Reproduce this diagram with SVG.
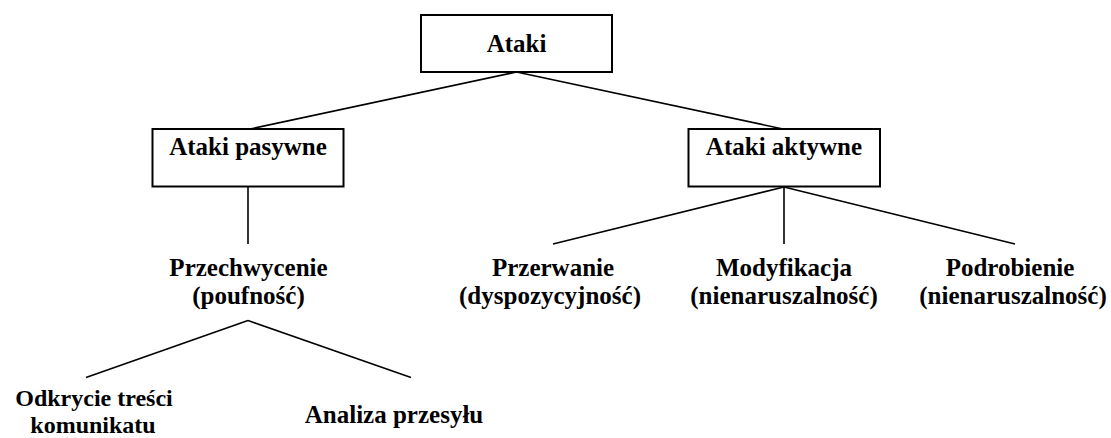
<svg xmlns="http://www.w3.org/2000/svg" width="1111" height="438" viewBox="0 0 1111 438">
  <style>
    .box { fill: #ffffff; stroke: #000000; stroke-width: 2; }
    .edge { stroke: #000000; stroke-width: 1.6; fill: none; }
    .lbl { font-family: "Liberation Serif", "Times New Roman", serif; font-weight: bold; font-size: 25px; fill: #000000; text-anchor: middle; }
    .lbl.sm { font-size: 24px; }
  </style>
  <rect width="1111" height="438" fill="#ffffff"/>

  <!-- connectors -->
  <g id="connectors">
    <line class="edge" x1="516.5" y1="72" x2="250" y2="129"/>
    <line class="edge" x1="516.5" y1="72" x2="783" y2="129"/>
    <line class="edge" x1="248" y1="187" x2="248" y2="244"/>
    <line class="edge" x1="784" y1="187" x2="553" y2="244"/>
    <line class="edge" x1="784" y1="187" x2="784" y2="244"/>
    <line class="edge" x1="784" y1="187" x2="1015" y2="244"/>
    <line class="edge" x1="248" y1="320.5" x2="86" y2="377.5"/>
    <line class="edge" x1="248" y1="320.5" x2="411" y2="377.5"/>
  </g>

  <g id="ataki">
    <rect class="box" x="421" y="15" width="191" height="57"/>
    <text class="lbl" x="516.5" y="52">Ataki</text>
  </g>

  <g id="ataki-pasywne">
    <rect class="box" x="152.5" y="129" width="191" height="57.5"/>
    <text class="lbl" x="248" y="155">Ataki pasywne</text>
  </g>

  <g id="ataki-aktywne">
    <rect class="box" x="688.5" y="129" width="191.5" height="57.5"/>
    <text class="lbl" x="784" y="155">Ataki aktywne</text>
  </g>

  <g id="przechwycenie">
    <text class="lbl" x="248.5" y="275.5">Przechwycenie</text>
    <text class="lbl" x="248.5" y="304">(poufność)</text>
  </g>

  <g id="przerwanie">
    <text class="lbl" x="553" y="275.5">Przerwanie</text>
    <text class="lbl" x="550" y="304">(dyspozycyjność)</text>
  </g>

  <g id="modyfikacja">
    <text class="lbl" x="784" y="275.5">Modyfikacja</text>
    <text class="lbl" x="784" y="304">(nienaruszalność)</text>
  </g>

  <g id="podrobienie">
    <text class="lbl" x="1010" y="275.5">Podrobienie</text>
    <text class="lbl" x="1013" y="304">(nienaruszalność)</text>
  </g>

  <g id="odkrycie-tresci">
    <text class="lbl sm" x="94" y="406">Odkrycie treści</text>
    <text class="lbl sm" x="93" y="432.5">komunikatu</text>
  </g>

  <g id="analiza-przesylu">
    <text class="lbl" x="394" y="423">Analiza przesyłu</text>
  </g>
</svg>
